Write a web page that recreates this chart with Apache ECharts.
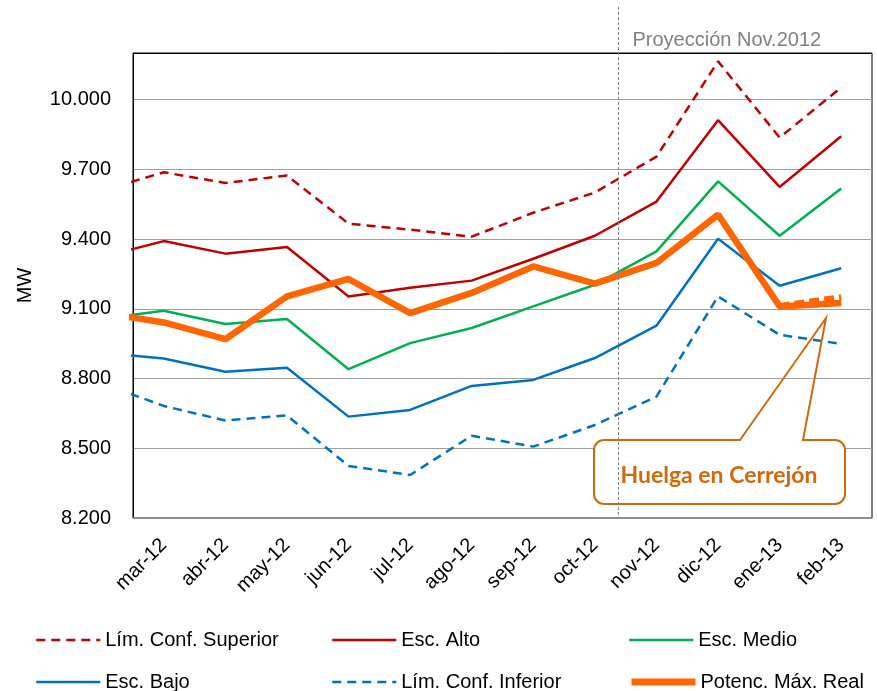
<!DOCTYPE html>
<html>
<head>
<meta charset="utf-8">
<script src="https://cdn.jsdelivr.net/npm/echarts@6/dist/echarts.min.js"></script>
<style>
  html, body { margin: 0; padding: 0; background: #fff; }
  #chart { width: 877px; height: 691px; }
</style>
</head>
<body>
<div id="chart"></div>
<script>
// axis categories
const months = ['mar-12', 'abr-12', 'may-12', 'jun-12', 'jul-12', 'ago-12',
    'sep-12', 'oct-12', 'nov-12', 'dic-12', 'ene-13', 'feb-13'];

// y axis: 8.200 .. 10.000 every 300
const yMin = 8200;
const yMax = 10200;
const yStep = 300;

// series values; first entry is feb-12, left of the plot (only its lead-in shows)
const limSup   = [9609, 9687, 9641, 9673, 9466, 9440, 9410, 9513, 9600, 9754, 10164, 9836, 10052];
const escAlto  = [9323, 9391, 9337, 9366, 9153, 9190, 9221, 9315, 9414, 9561, 9911, 9624, 9842];
const escMedio = [9057, 9091, 9034, 9056, 8840, 8952, 9017, 9110, 9203, 9347, 9648, 9414, 9617];
const escBajo  = [8910, 8886, 8829, 8846, 8636, 8665, 8768, 8794, 8888, 9027, 9401, 9199, 9274];
const limInf   = [8778, 8682, 8619, 8641, 8424, 8385, 8554, 8507, 8600, 8722, 9153, 8988, 8949];
const potReal  = [9083, 9041, 8969, 9153, 9228, 9081, 9168, 9282, 9208, 9297, 9505, 9110, 9125];
// dashed stretch of the real line during the strike (ene-13, feb-13)
const huelga   = [9112, 9150];

// position of the "Proyección" divider, in month index units
const projectionAt = 7.37;

const FONT = '"Liberation Sans", Arial, sans-serif';

function toPoints(values, startIndex) {
    return values.map((v, i) => [i + startIndex, v]);
}

function fmtThousands(v) {
    return String(v).replace(/\B(?=(\d{3})+(?!\d))/g, '.');
}

function lineSeries(name, values, color, width, dashed) {
    return {
        name: name,
        type: 'line',
        xAxisIndex: 1,
        symbol: 'none',
        clip: true,
        data: toPoints(values, -1),
        lineStyle: {color: color, width: width, type: dashed ? [9, 6] : 'solid'},
        itemStyle: {color: color}
    };
}

const chart = echarts.init(document.getElementById('chart'));

const legendCols = [30, 326, 623];
const legendRows = [624, 666];
// name, column, row, icon line width
const legendItems = [
    ['Lím. Conf. Superior', 0, 0, 2.5], ['Esc. Alto', 1, 0, 2.5], ['Esc. Medio', 2, 0, 2.5],
    ['Esc. Bajo', 0, 1, 2.5], ['Lím. Conf. Inferior', 1, 1, 2.5], ['Potenc. Máx. Real', 2, 1, 7]
];

const splitColors = [];
for (let v = yMin; v < yMax; v += yStep) splitColors.push('#a0a0a0');
splitColors.push('#000');

chart.setOption({
    animation: false,
    textStyle: {fontFamily: FONT},
    grid: {left: 133, top: 53, right: 5, bottom: 173, show: true, borderColor: '#000', borderWidth: 1},
    legend: legendItems.map(([name, c, r, w]) => ({
        data: [name],
        left: legendCols[c],
        top: legendRows[r],
        itemWidth: 64,
        itemHeight: 12,
        selectedMode: false,
        itemStyle: {opacity: 0},
        lineStyle: {width: w},
        textStyle: {fontSize: 20, color: '#000', fontFamily: FONT, lineHeight: 22}
    })),
    xAxis: [{
        type: 'category',
        data: months,
        boundaryGap: true,
        axisTick: {show: false},
        axisLine: {lineStyle: {color: '#8c8c8c', width: 1.5}},
        axisLabel: {rotate: 45, fontSize: 20, color: '#000', margin: 24, interval: 0, fontFamily: FONT}
    }, {
        type: 'value',
        min: -0.5,
        max: 11.5,
        show: false
    }],
    yAxis: {
        type: 'value',
        min: yMin,
        max: yMax,
        interval: yStep,
        name: 'MW',
        nameLocation: 'middle',
        nameRotate: 90,
        nameGap: 98,
        nameTextStyle: {fontSize: 20, color: '#000', fontFamily: FONT},
        axisTick: {show: false},
        axisLine: {show: true, onZero: false, lineStyle: {color: '#000', width: 1}},
        axisLabel: {fontSize: 20, color: '#000', margin: 22, showMaxLabel: false, formatter: fmtThousands, fontFamily: FONT},
        splitLine: {lineStyle: {color: splitColors, width: 1.2}}
    },
    series: [
        lineSeries('Lím. Conf. Superior', limSup, '#c00000', 2.5, true),
        lineSeries('Esc. Alto', escAlto, '#c00000', 2.5, false),
        lineSeries('Esc. Medio', escMedio, '#00b050', 2.5, false),
        lineSeries('Esc. Bajo', escBajo, '#0070c0', 2.5, false),
        lineSeries('Lím. Conf. Inferior', limInf, '#0070c0', 2.5, true),
        lineSeries('Potenc. Máx. Real', potReal, '#ff6600', 6.5, false),
        {
            name: 'Huelga',
            type: 'line',
            xAxisIndex: 1,
            symbol: 'none',
            data: toPoints(huelga, 10),
            lineStyle: {color: '#ff6600', width: 6, type: [10, 5]}
        }
    ]
});

// divider, its caption and the strike callout
const divTop = chart.convertToPixel({seriesIndex: 0}, [projectionAt, yMax]);
const divBottom = chart.convertToPixel({seriesIndex: 0}, [projectionAt, yMin]);
const divX = Math.round(divTop[0]) + 0.5;
const calloutColor = '#d0690e';

chart.setOption({
    graphic: [
        {
            type: 'rect', z: 5,
            shape: {x: 594, y: 440, width: 251, height: 64, r: 10},
            style: {fill: '#fff', stroke: calloutColor, lineWidth: 2}
        },
        {
            // opening in the top edge where the pointer leaves the box
            type: 'line', z: 6,
            shape: {x1: 741, y1: 440, x2: 802, y2: 440},
            style: {stroke: '#fff', lineWidth: 3}
        },
        {
            type: 'polyline', z: 6,
            shape: {points: [[740, 440], [826, 318], [803, 440]]},
            style: {fill: null, stroke: calloutColor, lineWidth: 2}
        },
        {
            type: 'text', z: 7,
            x: 719, y: 476,
            style: {
                text: 'Huelga en Cerrejón', fill: calloutColor,
                font: 'bold 23px Lato, "Open Sans", sans-serif',
                align: 'center', verticalAlign: 'middle'
            }
        },
        {
            type: 'line', z: 8,
            shape: {x1: divX, y1: 7, x2: divX, y2: divBottom[1]},
            style: {stroke: '#808080', lineWidth: 1, lineDash: [3, 2]}
        },
        {
            type: 'text', z: 8,
            x: divX + 14, y: 40,
            style: {
                text: 'Proyección Nov.2012', fill: '#808080',
                font: '20px ' + FONT, verticalAlign: 'middle'
            }
        }
    ]
});
</script>
</body>
</html>
